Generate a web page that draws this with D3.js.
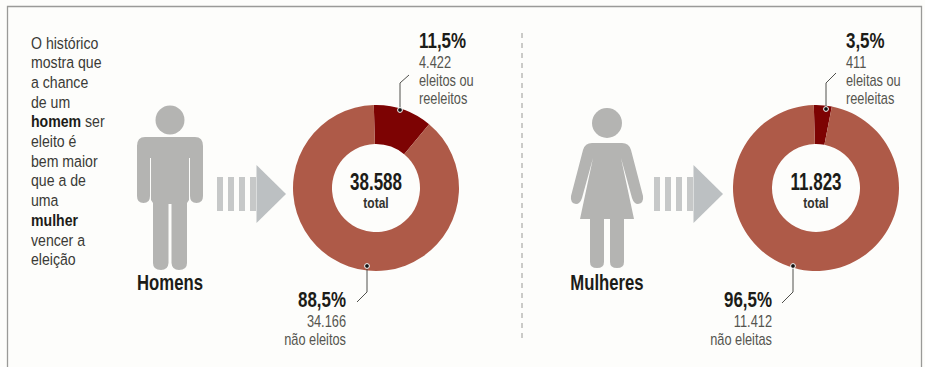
<!DOCTYPE html>
<html lang="pt-BR">
<head>
<meta charset="utf-8">
<title>Chance de eleição por gênero</title>
<script src="https://cdn.jsdelivr.net/npm/d3@7/dist/d3.min.js"></script>
<style>
  html, body { margin: 0; padding: 0; background: #fdfdfb; }
  svg { display: block; }
  text { font-family: "Liberation Sans", sans-serif; }
  .intro { font-size: 17px; fill: #3a3a36; }
  .intro .strong { font-weight: 700; fill: #1c1c18; }
  .pct, .total, .group { font-weight: 700; fill: #1c1c18; }
  .pct, .group { font-size: 22px; }
  .total { font-size: 23px; }
  .note { font-size: 16px; fill: #55554f; }
  .totalNote { font-size: 15px; font-weight: 700; fill: #33332f; }
</style>
</head>
<body>
<svg id="chart" width="925" height="367"></svg>
<script>
// Candidate counts per outcome
const outcomes = ["eleitos", "naoEleitos"];
const homensValues = [4422, 34166];
const mulheresValues = [411, 11412];
const homensTotal = "38.588";
const mulheresTotal = "11.823";
const homensLabels = { top: ["11,5%", "4.422", "eleitos ou", "reeleitos"], bottom: ["88,5%", "34.166", "não eleitos"] };
const mulheresLabels = { top: ["3,5%", "411", "eleitas ou", "reeleitas"], bottom: ["96,5%", "11.412", "não eleitas"] };
const introLines = [
  [["O histórico", false]],
  [["mostra que", false]],
  [["a chance", false]],
  [["de um", false]],
  [["homem", true], [" ser", false]],
  [["eleito é", false]],
  [["bem maior", false]],
  [["que a de", false]],
  [["uma", false]],
  [["mulher", true]],
  [["vencer a", false]],
  [["eleição", false]]
];

const svg = d3.select("#chart");
const colour = d3.scaleOrdinal().domain(outcomes).range(["#7d0303", "#ae5a48"]);
const grey = "#b4b4b2";
const barGrey = "#c6c8c8";
const arrowGrey = "#bcc0c2";

// Condensed text: the installed sans is squeezed horizontally to a newspaper width
function narrowText(parent, x, y, cls, content, squeeze, anchor) {
  return parent.append("text")
    .attr("class", cls)
    .attr("text-anchor", anchor || "start")
    .attr("transform", `translate(${x},${y}) scale(${squeeze},1)`)
    .text(content);
}

// Panel frame: left, top and right rules
svg.append("path")
  .attr("d", "M7.5,367V6.5H921.5V367")
  .attr("fill", "none").attr("stroke", "#9a9a98").attr("stroke-width", 1.3);

// Divider between the two groups
svg.append("line")
  .attr("x1", 522).attr("x2", 522).attr("y1", 33).attr("y2", 341)
  .attr("stroke", "#8c8c88").attr("stroke-width", 0.9).attr("stroke-dasharray", "5 5");

// Intro paragraph
introLines.forEach((runs, i) => {
  const line = narrowText(svg, 31, 48.5 + i * 19.7, "intro", null, 0.83);
  runs.forEach(run => line.append("tspan").text(run[0]).classed("strong", run[1]));
});

function drawArrow(x) {
  const g = svg.append("g").attr("transform", `translate(${x},0)`);
  [0, 11, 22, 33].forEach(dx =>
    g.append("rect").attr("x", dx).attr("y", 177).attr("width", 6).attr("height", 34).attr("fill", barGrey));
  g.append("path").attr("d", "M39.5,165L69,194L39.5,223Z").attr("fill", arrowGrey);
}

function drawMan(cx) {
  const g = svg.append("g").attr("transform", `translate(${cx},0)`).attr("fill", grey);
  g.append("circle").attr("cy", 120).attr("r", 14.5);
  g.append("path").attr("d",
    "M-25,137H25Q33,137 33,146V196Q33,203 26.5,203Q20,203 20,196V158H19V200L17,203V263Q17,270 9,270Q2,270 1.5,263V204H-1.5V263Q-2,270 -9,270Q-17,270 -17,263V203L-19,200V158H-20V196Q-20,203 -26.5,203Q-33,203 -33,196V146Q-33,137 -25,137Z");
}

function drawWoman(cx) {
  const g = svg.append("g").attr("transform", `translate(${cx},0)`).attr("fill", grey);
  g.append("circle").attr("cy", 123).attr("r", 15);
  g.append("path").attr("d",
    "M-15,143H15Q22,143 24,150L36,196Q37,203 31,204Q27,204 25,198L14,158L27,219H-27L-14,158L-25,198Q-27,204 -31,204Q-37,203 -36,196L-24,150Q-22,143 -15,143Z");
  g.append("path").attr("d", "M-17,218H-3V262Q-3,268 -10,268Q-17,268 -17,262Z");
  g.append("path").attr("d", "M3,218H17V262Q17,268 10,268Q3,268 3,262Z");
}

// Ring for one group, drawn from its outcome counts
const rotation = -1.5 * Math.PI / 180;
const pie = d3.pie().sort(null).startAngle(rotation).endAngle(2 * Math.PI + rotation);
const arc = d3.arc().innerRadius(44).outerRadius(83);

function drawRing(cx, values, total) {
  const g = svg.append("g").attr("transform", `translate(${cx},188)`);
  g.selectAll("path")
    .data(pie(values))
    .join("path")
    .attr("d", arc)
    .attr("fill", (d, i) => colour(outcomes[i]));
  narrowText(g, 0, 2, "total", total, 0.74, "middle");
  narrowText(g, 0, 20, "totalNote", "total", 0.8, "middle");
}

function drawLeader(points) {
  svg.append("path")
    .attr("d", d3.line()(points))
    .attr("fill", "none").attr("stroke", "#3c3c38").attr("stroke-width", 0.9);
  svg.append("circle")
    .attr("cx", points[0][0]).attr("cy", points[0][1]).attr("r", 2.4)
    .attr("fill", "#111").attr("stroke", "#fff").attr("stroke-width", 1);
}

function drawLabel(x, anchor, lines) {
  const baselines = lines.length === 4 ? [48, 68, 86, 104] : [307, 327, 345];
  lines.forEach((line, i) => {
    narrowText(svg, x, baselines[i], i === 0 ? "pct" : "note", line, i === 0 ? 0.77 : 0.8, anchor);
  });
}

function drawGroupName(cx, y, name) {
  narrowText(svg, cx, y, "group", name, 0.76, "middle");
}

// Homens
drawMan(170);
drawGroupName(170, 290, "Homens");
drawArrow(217);
drawRing(376, homensValues, homensTotal);
drawLeader([[400, 110], [400, 83], [409, 75]]);
drawLeader([[367, 266], [367, 292], [357, 302]]);
drawLabel(419, "start", homensLabels.top);
drawLabel(346, "end", homensLabels.bottom);

// Mulheres
drawWoman(607);
drawGroupName(607, 290, "Mulheres");
drawArrow(654);
drawRing(816, mulheresValues, mulheresTotal);
drawLeader([[826, 109], [826, 83], [836, 73]]);
drawLeader([[793, 266], [793, 292], [782, 303]]);
drawLabel(846, "start", mulheresLabels.top);
drawLabel(772, "end", mulheresLabels.bottom);
</script>
</body>
</html>
